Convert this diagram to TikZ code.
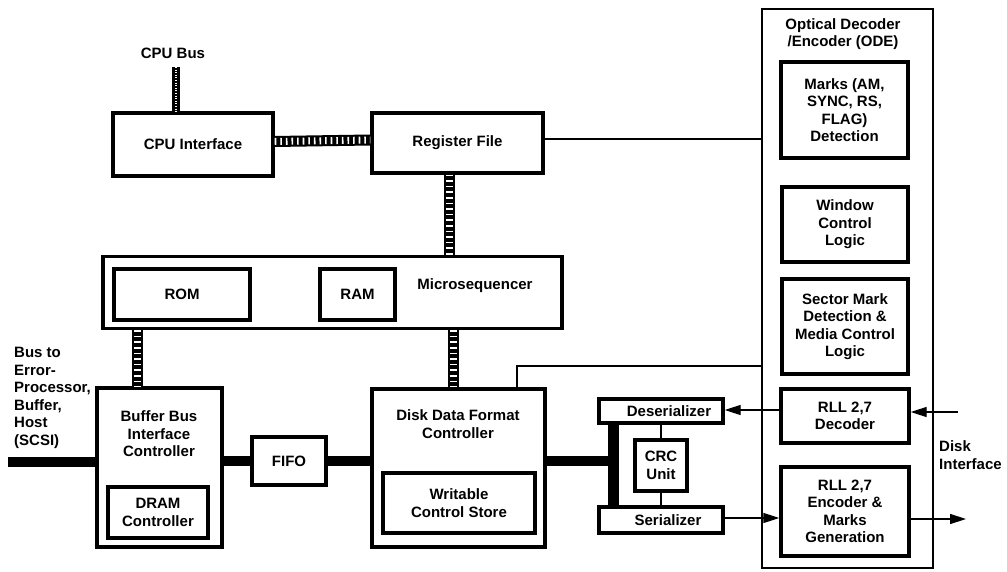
\documentclass[tikz,border=0pt]{standalone}
\usepackage{fontspec}
\setmainfont{Liberation Sans}
\usetikzlibrary{arrows.meta}
\begin{document}
\begin{tikzpicture}[x=1pt,y=-1pt,
  every node/.style={font=\bfseries\fontsize{15}{17.5}\selectfont, align=center, inner sep=0pt},
  blk/.style={draw, line width=3.4pt},
  odebox/.style={draw, line width=2.8pt},
  bus/.style={line width=10pt},
  ladder/.style={line width=11pt, postaction={draw=white, line width=7pt, dash pattern=on 1.6pt off 4pt}},
  busbar/.style={line width=8pt, postaction={draw=white, line width=1.4pt, dash pattern=on 1pt off 1.6pt}},
  thinline/.style={line width=1.4pt},
  arr/.style={line width=1.4pt, -{Triangle[length=16pt,width=10pt]}}
]
\useasboundingbox (0,0) rectangle (1007,572);

% top row
\node[blk, minimum width=160pt, minimum height=63pt] (cpu) at (193,144.5) {CPU Interface};
\node[blk, minimum width=171pt, minimum height=60pt] (reg) at (457.5,143) {Register File};
\node (cpubus) at (173,53) {CPU Bus};
\coordinate (cpubustop) at (176,67);

% microsequencer
\node[blk, minimum width=459pt, minimum height=72pt] (micro) at (332.5,292.5) {};
\node[blk, minimum width=136pt, minimum height=51pt] (rom) at (182,294.5) {ROM};
\node[blk, minimum width=75pt, minimum height=51pt] (ram) at (357.5,294.5) {RAM};
\node (microtxt) at (475,286) {Microsequencer};

% lower row
\node[blk, minimum width=125pt, minimum height=159pt] (bbic) at (159.5,467.5) {};
\node (bbictxt) at (159,434) {Buffer Bus\\Interface\\Controller};
\node[blk, minimum width=100pt, minimum height=51pt] (dram) at (158,512.5) {DRAM\\Controller};
\node[blk, minimum width=74pt, minimum height=48pt] (fifo) at (289,461) {FIFO};
\node[blk, minimum width=173pt, minimum height=158pt] (ddfc) at (458.5,468) {};
\node (ddfctxt) at (458,424) {Disk Data Format\\Controller};
\node[blk, minimum width=152pt, minimum height=60pt] (wcs) at (459,503) {Writable\\Control Store};

% serializer group
\node[blk, minimum width=124pt, minimum height=24pt] (deser) at (661,411) {};
\node (desertxt) at (669,411) {Deserializer};
\node[blk, minimum width=124pt, minimum height=26pt] (ser) at (661,520) {};
\node (sertxt) at (668,520) {Serializer};
\node[blk, minimum width=52pt, minimum height=51pt] (crc) at (661,465.5) {CRC\\Unit};
\coordinate (barx) at (613,0);

% ODE
\node[odebox, minimum width=171pt, minimum height=559pt] (ode) at (847.5,288.5) {};
\node (odetxt) at (843,34) {Optical Decoder\\/Encoder (ODE)};
\node[blk, minimum width=127pt, minimum height=96pt] (marks) at (844.5,110) {Marks (AM,\\SYNC, RS,\\FLAG)\\Detection};
\node[blk, minimum width=126pt, minimum height=75pt] (window) at (845,224.5) {Window\\Control\\Logic};
\node[blk, minimum width=126pt, minimum height=95pt] (sector) at (845,326.5) {Sector Mark\\Detection \&\\Media Control\\Logic};
\node[blk, minimum width=128pt, minimum height=54pt] (dec) at (845,416) {RLL 2,7\\Decoder};
\node[blk, minimum width=128pt, minimum height=89pt] (enc) at (845,511.5) {RLL 2,7\\Encoder \&\\Marks\\Generation};

% side labels
\node[align=left, anchor=west] (bustxt) at (14,398) {Bus to\\Error-\\Processor,\\Buffer,\\Host\\(SCSI)};
\node[align=left, anchor=west] (disktxt) at (939,455) {Disk\\Interface};
\coordinate (busleft) at (8,462);
\coordinate (diskin) at (958,412);
\coordinate (diskout) at (966,519);
\coordinate (ddfcup) at (517,366);
\coordinate (l1) at (449,0);
\coordinate (l2) at (137,0);
\coordinate (l3) at (453,0);
\coordinate (cpuE) at ([yshift=3pt]cpu.east);
\coordinate (regW) at ([yshift=3pt]reg.west);
\coordinate (regE) at ([yshift=4pt]reg.east);
\coordinate (deserE) at ([yshift=1pt]deser.east);
\coordinate (serE) at ([yshift=2pt]ser.east);

% connectors
\draw[busbar] (cpubustop) -- (cpu.north -| cpubustop);
\draw[ladder] (cpuE) -- (regW);
\draw[ladder] (reg.south -| l1) -- (micro.north -| l1);
\draw[ladder] (micro.south -| l2) -- (bbic.north -| l2);
\draw[ladder] (micro.south -| l3) -- (ddfc.north -| l3);

\draw[bus] (busleft) -- (bbic.west |- busleft);
\draw[bus] (bbic.east |- fifo.west) -- (fifo.west);
\draw[bus] (fifo.east) -- (ddfc.west |- fifo.east);
\draw[bus] (ddfc.east |- fifo.east) -- (barx |- fifo.east);
\draw[line width=11pt] (deser.south -| barx) -- (ser.north -| barx);

\draw[thinline] (deser.south -| crc.north) -- (crc.north);
\draw[thinline] (crc.south) -- (ser.north -| crc.south);

\draw[thinline] (regE) -- (ode.west |- regE);
\draw[thinline] (ddfc.north -| ddfcup) -- (ddfcup) -- (ode.west |- ddfcup);

\draw[arr] (dec.west |- deserE) -- (deserE);
\draw[arr] (serE) -- (enc.west |- serE);
\draw[arr] (diskin) -- (dec.east |- diskin);
\draw[arr] (enc.east |- diskout) -- (diskout);
\end{tikzpicture}
\end{document}
